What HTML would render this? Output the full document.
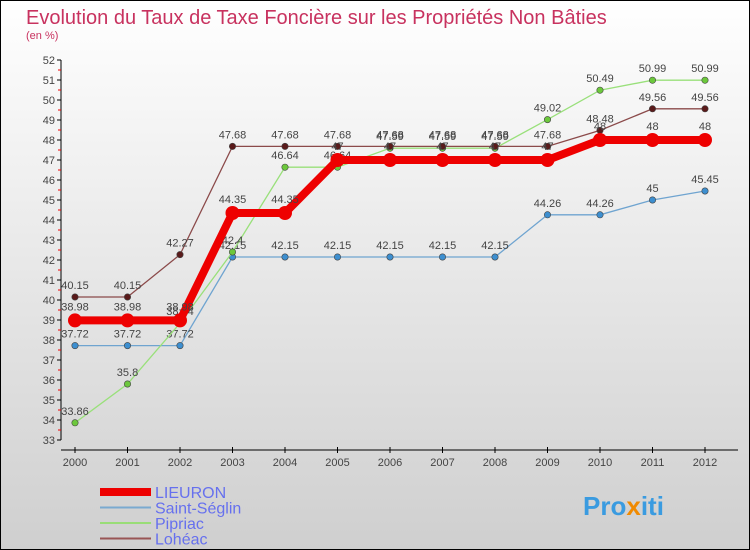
<!DOCTYPE html>
<html><head><meta charset="utf-8"><style>
body{margin:0}
#c{width:750px;height:550px;position:relative;overflow:hidden;font-family:"Liberation Sans",sans-serif}
</style></head><body>
<div id="c">
<svg id="s" width="750" height="550" xmlns="http://www.w3.org/2000/svg">
<defs><linearGradient id="bg" x1="0" y1="0" x2="0" y2="1"><stop offset="0" stop-color="#ffffff"/><stop offset="1" stop-color="#cfcfcf"/></linearGradient></defs>
<rect x="0.5" y="0.5" width="749" height="549" fill="url(#bg)" stroke="#000"/>
<text x="26" y="24" font-size="20" fill="#c8325f">Evolution du Taux de Taxe Foncière sur les Propriétés Non Bâties</text>
<text x="26" y="39" font-size="11" fill="#c8325f">(en %)</text>
<g id="axes"></g><g id="series"></g><g id="legend"></g>
<text x="583" y="515" font-size="26" font-weight="bold" fill="#3a9be0">Pro<tspan fill="#f08a00">x</tspan>iti</text>
</svg></div>
<script>
const years=[2000,2001,2002,2003,2004,2005,2006,2007,2008,2009,2010,2011,2012];
const yTicks=[33,34,35,36,37,38,39,40,41,42,43,44,45,46,47,48,49,50,51,52];
const lieuron=[38.98,38.98,38.98,44.35,44.35,47,47,47,47,47,48,48,48];
const saintSeglin=[37.72,37.72,37.72,42.15,42.15,42.15,42.15,42.15,42.15,44.26,44.26,45,45.45];
const pipriac=[33.86,35.8,38.84,42.4,46.64,46.64,47.59,47.59,47.59,49.02,50.49,50.99,50.99];
const loheac=[40.15,40.15,42.27,47.68,47.68,47.68,47.68,47.68,47.68,47.68,48.48,49.56,49.56];
const NS="http://www.w3.org/2000/svg";
const X=i=>75+i*52.5;
const Y=v=>440-(v-33)*20;
function mk(tag,attrs,parent){const e=document.createElementNS(NS,tag);for(const k in attrs)e.setAttribute(k,attrs[k]);parent.appendChild(e);return e;}
const ax=document.getElementById('axes');
let l=mk('line',{x1:61,y1:Y(52),x2:61,y2:Y(33),stroke:'#000'},ax);


l=mk('line',{x1:61,y1:450,x2:738,y2:450,stroke:'#000'},ax);


yTicks.forEach(v=>{
 mk('line',{x1:57,y1:Y(v),x2:61,y2:Y(v),stroke:'#000'},ax);
 if(v<52)mk('line',{x1:58,y1:Y(v+0.5),x2:61,y2:Y(v+0.5),stroke:'#e00'},ax);
 const t=mk('text',{x:55,y:Y(v)+4,'font-size':11,'text-anchor':'end',fill:'#444'},ax);t.textContent=v;
 
 
});
years.forEach((y,i)=>{
 mk('line',{x1:X(i),y1:447,x2:X(i),y2:453,stroke:'#000'},ax);
 const t=mk('text',{x:X(i),y:466,'font-size':11,'text-anchor':'middle',fill:'#444'},ax);t.textContent=y;
 
 
});
const sg=document.getElementById('series');
function draw(data,name,color,w,r,fill,off){
 const g=mk('g',{},sg);
 
 
 const p=mk('polyline',{points:data.map((v,i)=>X(i)+','+Y(v)).join(' '),fill:'none',stroke:color,'stroke-width':w},g);
 
 
 data.forEach((v,i)=>{
  const c=mk('circle',{cx:X(i),cy:Y(v),r:r,fill:fill,stroke:'#444','stroke-width':r>5?0:0.6},g);
  
  
  const t=mk('text',{x:X(i),y:Y(v)-off,'font-size':11,'text-anchor':'middle',fill:'#444'},g);t.textContent=v;
  
  
 });
}
draw(saintSeglin,'saint-seglin','#6fa4d0',1.3,3.2,'#3d8fd0',8);
draw(pipriac,'pipriac','#99e07a',1.3,3.2,'#6cc83c',8);
draw(loheac,'loheac','#8b4a4a',1.3,3.2,'#5a1a1a',8);
draw(lieuron,'lieuron','#ee0000',8,7,'#ee0000',10);
const lg=document.getElementById('legend');
const items=[['LIEURON','#ee0000',8],['Saint-Séglin','#7aaad0',2],['Pipriac','#99dd77',2],['Lohéac','#995555',2]];
items.forEach((it,k)=>{
 const y=492+k*15.5;
 const ln=mk('line',{x1:100,y1:y,x2:151,y2:y,stroke:it[1],'stroke-width':it[2]},lg);
 
 
 const t=mk('text',{x:155,y:y+6,'font-size':16,fill:'#6670ee'},lg);t.textContent=it[0];
 
 
});
</script>
</body></html>
